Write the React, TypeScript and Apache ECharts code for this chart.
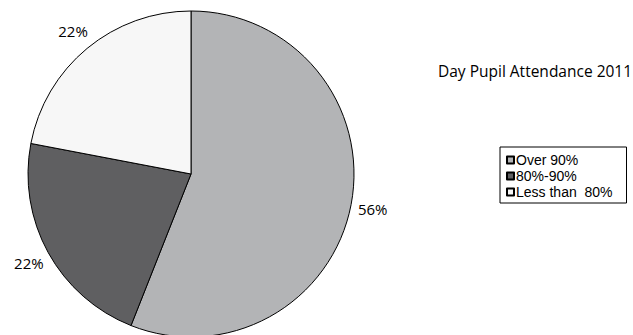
import React, { useEffect, useRef } from "react";
import * as echarts from "echarts";

const categories = ["Over 90%", "80%-90%", "Less than  80%"];
const values = [56, 22, 22];
const colors = ["#b3b4b6", "#5f5f61", "#f7f7f7"];
const chartTitle = "Day Pupil Attendance 2011";

const CX = 191;
const CY = 174;
const R = 163;
const LABEL_R = 185;
const FONT = "'Open Sans', 'Noto Sans', sans-serif";
const LEGEND_FONT = "'Liberation Sans', Arial, sans-serif";

export default function App() {
  const ref = useRef<HTMLDivElement>(null);
  useEffect(() => {
    if (!ref.current) return;
    const chart = echarts.init(ref.current, undefined, { renderer: "svg" });
    const total = values.reduce((a, b) => a + b, 0);
    const midAngle = (i: number) => {
      let before = 0;
      for (let k = 0; k < i; k++) before += values[k];
      return ((before + values[i] / 2) / total) * Math.PI * 2;
    };
    chart.setOption({
      animation: false,
      backgroundColor: "#ffffff",
      title: {
        text: chartTitle,
        left: 438,
        top: 63,
        padding: 0,
        textStyle: { fontFamily: FONT, fontSize: 15.5, fontWeight: "normal", color: "#000" },
      },
      legend: {
        orient: "vertical",
        left: 500,
        top: 147,
        itemWidth: 7,
        itemHeight: 7,
        itemGap: 0,
        icon: "rect",
        padding: [5, 14, 3, 6],
        borderColor: "#000",
        borderWidth: 1,
        borderRadius: 0,
        data: categories,
        textStyle: { fontFamily: LEGEND_FONT, fontSize: 14, color: "#000", lineHeight: 16, padding: [0, 0, 0, -3] },
      },
      series: [
        {
          type: "pie",
          center: [CX, CY],
          radius: R,
          startAngle: 90,
          clockwise: true,
          avoidLabelOverlap: false,
          itemStyle: { borderColor: "#000", borderWidth: 1 },
          label: {
            show: true,
            position: "outside",
            formatter: "{d}%",
            fontFamily: FONT,
            fontSize: 15,
            color: "#000",
          },
          labelLine: { show: false },
          labelLayout: (params: any) => {
            const a = midAngle(params.dataIndex);
            return {
              x: CX + LABEL_R * Math.sin(a),
              y: CY - LABEL_R * Math.cos(a),
              align: "center",
              verticalAlign: "middle",
            };
          },
          emphasis: { disabled: true },
          data: categories.map((name, i) => ({
            name,
            value: values[i],
            itemStyle: { color: colors[i] },
          })),
        },
      ],
    });
    return () => chart.dispose();
  }, []);
  return (
    <div
      ref={ref}
      style={{ position: "fixed", left: 0, top: 0, width: 633, height: 335 }}
    />
  );
}
